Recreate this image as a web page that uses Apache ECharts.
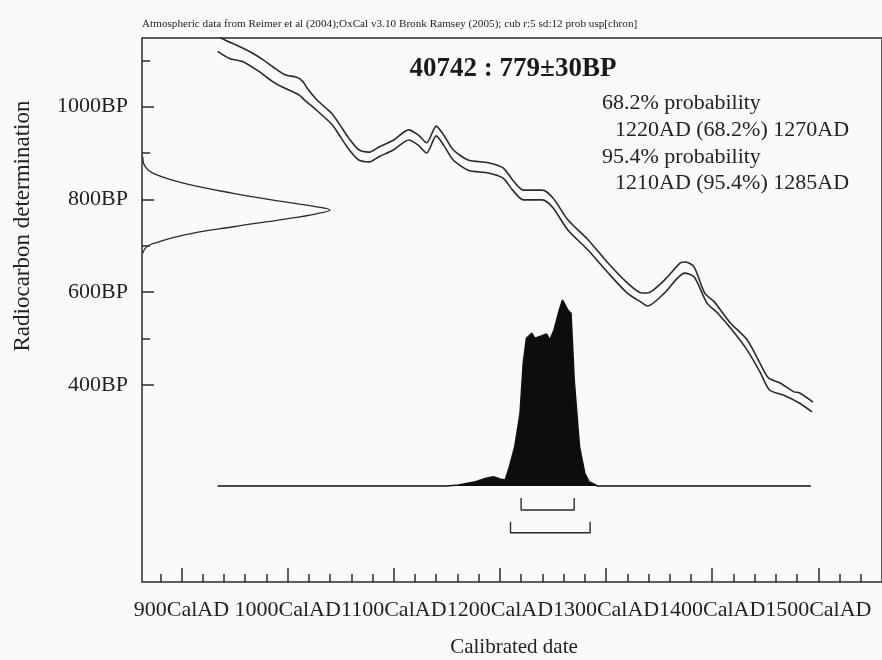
<!DOCTYPE html>
<html>
<head>
<meta charset="utf-8">
<script src="https://cdn.jsdelivr.net/npm/echarts@6/dist/echarts.min.js"></script>
<style>
html,body{margin:0;padding:0;background:#fafaf9;}
#chart{width:882px;height:660px;}
</style>
</head>
<body>
<div id="chart"></div>
<script>
// ---- data ----
const xMajorTicks = [900, 1000, 1100, 1200, 1300, 1400, 1500];
const xMinorTicks = [880, 920, 940, 960, 980, 1020, 1040, 1060, 1080, 1120, 1140, 1160, 1180,
  1220, 1240, 1260, 1280, 1320, 1340, 1360, 1380, 1420, 1440, 1460, 1480, 1520, 1540];
const yMajorTicks = [400, 600, 800, 1000];
const yMinorTicks = [500, 700, 900, 1100];

// calibration curve envelope (upper / lower), [calendar year AD, BP]
const upperCurve = [
  [935, 1153], [938, 1147], [955, 1129], [967, 1115], [977, 1101], [986, 1086], [998, 1068],
  [1008, 1064], [1014, 1055], [1019, 1038], [1027, 1016], [1036, 997], [1042, 984], [1048, 965],
  [1058, 931], [1067, 907], [1077, 902], [1086, 913], [1100, 928], [1114, 950], [1123, 939],
  [1131, 922], [1140, 958], [1147, 939], [1156, 907], [1170, 885], [1189, 879], [1203, 868],
  [1212, 842], [1222, 820], [1240, 820], [1250, 803], [1264, 756], [1283, 713], [1301, 665],
  [1320, 620], [1334, 598], [1339, 598], [1355, 626], [1370, 663], [1375, 665], [1383, 654],
  [1393, 598], [1402, 579], [1417, 534], [1433, 497], [1445, 447], [1453, 415], [1464, 404],
  [1477, 385], [1482, 383], [1495, 363]
];
const lowerCurve = [
  [934, 1119], [945, 1104], [958, 1097], [973, 1076], [986, 1054], [997, 1040], [1005, 1032],
  [1011, 1025], [1016, 1014], [1027, 993], [1042, 961], [1048, 941], [1058, 907], [1067, 885],
  [1077, 881], [1086, 892], [1100, 907], [1114, 928], [1123, 917], [1131, 900], [1140, 937],
  [1147, 917], [1156, 885], [1170, 863], [1189, 857], [1203, 846], [1212, 820], [1222, 799],
  [1240, 799], [1250, 782], [1264, 734], [1283, 691], [1301, 644], [1320, 598], [1334, 577],
  [1339, 570], [1355, 598], [1374, 641], [1383, 633], [1395, 577], [1405, 555], [1421, 512],
  [1433, 475], [1445, 428], [1454, 389], [1467, 378], [1482, 361], [1494, 342]
];

// calibrated probability distribution (relative, peak = 1)
const distYears = [934, 1150, 1161, 1177, 1187, 1194, 1200, 1205, 1209, 1214, 1219, 1222, 1225,
  1230, 1233, 1239, 1244, 1247, 1251, 1256, 1259, 1264, 1267, 1270, 1275, 1280, 1284, 1292, 1493];
const distProb = [0, 0, 0.005, 0.023, 0.041, 0.05, 0.038, 0.032, 0.104, 0.211, 0.391, 0.661, 0.794,
  0.821, 0.794, 0.806, 0.817, 0.785, 0.839, 0.946, 1.0, 0.946, 0.928, 0.57, 0.211, 0.068, 0.023, 0, 0];

// measured radiocarbon date distribution (BP, relative)
const dateBP = [892, 871, 856, 835, 813, 795, 784, 777, 769, 757, 741, 723, 707, 698, 684];
const dateProb = [0.004, 0.016, 0.06, 0.22, 0.486, 0.752, 0.929, 1.0, 0.929, 0.752, 0.486, 0.22, 0.078, 0.025, 0.004];

// ranges
const range68 = [1220, 1270];
const range95 = [1210, 1285];

// texts
const captionText = 'Atmospheric data from Reimer et al (2004);OxCal v3.10 Bronk Ramsey (2005); cub r:5 sd:12 prob usp[chron]';
const titleText = '40742 : 779\u00b130BP';
const infoLines = ['68.2% probability', '1220AD (68.2%) 1270AD', '95.4% probability', '1210AD (95.4%) 1285AD'];
const xTitle = 'Calibrated date';
const yTitle = 'Radiocarbon determination';

// ---- chart ----
const FONT = '"Liberation Serif", "DejaVu Serif", serif';
const INK = '#2b2b2b';
const X_MIN = 862.8, X_MAX = 1560;
const Y_MIN = -25, Y_MAX = 1148;

const chart = echarts.init(document.getElementById('chart'), null, {renderer: 'canvas'});

function bracket(r, top, bottom) {
  return [[r[0], top], [r[0], bottom], [r[1], bottom], [r[1], top]];
}

const option = {
  backgroundColor: '#fafaf9',
  animation: false,
  grid: [
    {left: 142, right: -4, top: 38, bottom: 78, show: true, borderColor: INK, borderWidth: 1.5, backgroundColor: 'transparent'},
    {left: 142, right: -4, top: 300, height: 279, show: false},
    {left: 142, width: 188, top: 38, bottom: 78, show: false}
  ],
  xAxis: [
    {type: 'value', gridIndex: 0, min: X_MIN, max: X_MAX, position: 'bottom',
     axisLine: {show: false, onZero: false}, splitLine: {show: false},
     axisTick: {show: true, inside: true, length: 14, customValues: xMajorTicks, lineStyle: {color: INK, width: 1.5}},
     axisLabel: {show: true, customValues: xMajorTicks, formatter: v => v + 'CalAD', margin: 17,
       hideOverlap: false, showMinLabel: true, showMaxLabel: true,
       fontFamily: FONT, fontSize: 22, color: '#222'}},
    {type: 'value', gridIndex: 0, min: X_MIN, max: X_MAX, position: 'bottom',
     axisLine: {show: false, onZero: false}, splitLine: {show: false}, axisLabel: {show: false},
     axisTick: {show: true, inside: true, length: 8, customValues: xMinorTicks, lineStyle: {color: INK, width: 1.5}}},
    {type: 'value', gridIndex: 1, min: X_MIN, max: X_MAX, show: false},
    {type: 'value', gridIndex: 2, min: 0, max: 1, show: false}
  ],
  yAxis: [
    {type: 'value', gridIndex: 0, min: Y_MIN, max: Y_MAX, position: 'left',
     axisLine: {show: false, onZero: false}, splitLine: {show: false},
     axisTick: {show: true, inside: true, length: 12, customValues: yMajorTicks, lineStyle: {color: INK, width: 1.5}},
     axisLabel: {show: true, customValues: yMajorTicks, formatter: v => v + 'BP', margin: 14,
       fontFamily: FONT, fontSize: 22, color: '#222'}},
    {type: 'value', gridIndex: 0, min: Y_MIN, max: Y_MAX, position: 'left',
     axisLine: {show: false, onZero: false}, splitLine: {show: false}, axisLabel: {show: false},
     axisTick: {show: true, inside: true, length: 8, customValues: yMinorTicks, lineStyle: {color: INK, width: 1.5}}},
    {type: 'value', gridIndex: 1, min: -0.5, max: 1, show: false},
    {type: 'value', gridIndex: 2, min: Y_MIN, max: Y_MAX, show: false}
  ],
  series: [
    {type: 'line', xAxisIndex: 0, yAxisIndex: 0, data: upperCurve, symbol: 'none', smooth: 0.25,
     lineStyle: {color: INK, width: 1.6}, clip: true},
    {type: 'line', xAxisIndex: 0, yAxisIndex: 0, data: lowerCurve, symbol: 'none', smooth: 0.25,
     lineStyle: {color: INK, width: 1.6}, clip: true},
    {type: 'line', xAxisIndex: 2, yAxisIndex: 2, data: distYears.map((y, i) => [y, distProb[i]]),
     symbol: 'none', smooth: false, lineStyle: {color: '#111', width: 1.6},
     areaStyle: {color: '#0d0d0d', opacity: 1}},
    {type: 'line', xAxisIndex: 2, yAxisIndex: 2, data: bracket(range68, -0.0645, -0.129), symbol: 'none',
     lineStyle: {color: INK, width: 1.4}},
    {type: 'line', xAxisIndex: 2, yAxisIndex: 2, data: bracket(range95, -0.192, -0.251), symbol: 'none',
     lineStyle: {color: INK, width: 1.4}},
    {type: 'line', xAxisIndex: 3, yAxisIndex: 3, data: dateBP.map((b, i) => [dateProb[i], b]),
     symbol: 'none', smooth: 0.4, lineStyle: {color: INK, width: 1.3}}
  ],
  graphic: [
    {type: 'text', left: 142, top: 19, style: {text: captionText, font: '11.2px ' + FONT, fill: '#222'}},
    {type: 'text', x: 513, y: 69, style: {text: titleText, font: 'bold 27px ' + FONT, fill: '#1a1a1a',
      textAlign: 'center', textVerticalAlign: 'middle'}},
    {type: 'text', x: 602, y: 103, style: {text: infoLines[0], font: '22px ' + FONT, fill: '#222', textVerticalAlign: 'middle'}},
    {type: 'text', x: 615, y: 130, style: {text: infoLines[1], font: '22px ' + FONT, fill: '#222', textVerticalAlign: 'middle'}},
    {type: 'text', x: 602, y: 157, style: {text: infoLines[2], font: '22px ' + FONT, fill: '#222', textVerticalAlign: 'middle'}},
    {type: 'text', x: 615, y: 183, style: {text: infoLines[3], font: '22px ' + FONT, fill: '#222', textVerticalAlign: 'middle'}},
    {type: 'text', x: 514, y: 647, style: {text: xTitle, font: '21px ' + FONT, fill: '#222',
      textAlign: 'center', textVerticalAlign: 'middle'}},
    {type: 'text', x: 23, y: 226, rotation: Math.PI / 2, style: {text: yTitle, font: '23px ' + FONT, fill: '#222',
      textAlign: 'center', textVerticalAlign: 'middle'}}
  ]
};
chart.setOption(option);
</script>
</body>
</html>
